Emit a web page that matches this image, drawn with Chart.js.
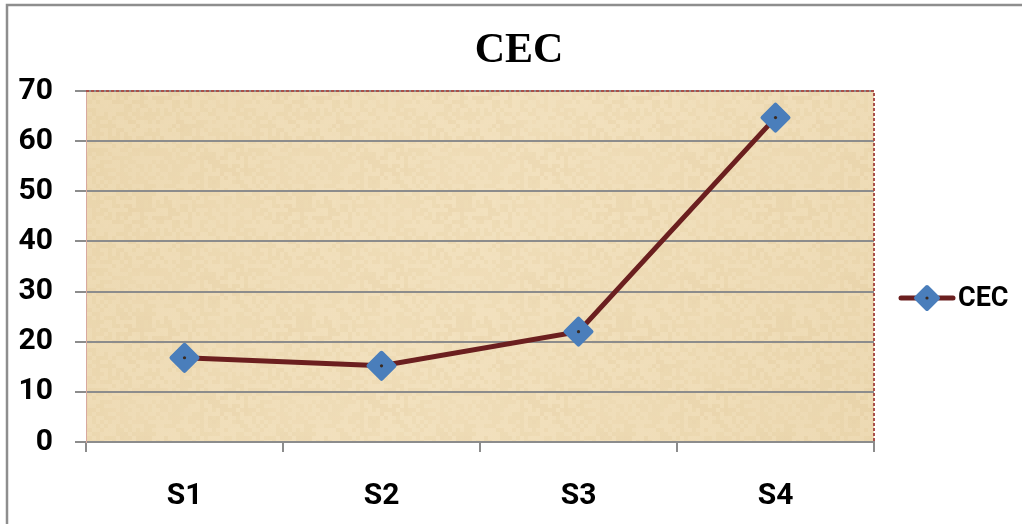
<!DOCTYPE html>
<html>
<head>
<meta charset="utf-8">
<title>CEC</title>
<script src="https://cdn.jsdelivr.net/npm/chart.js@4"></script>
<style>
  html, body { margin: 0; padding: 0; background: #fff; }
  #wrap { width: 1022px; height: 524px; }
</style>
</head>
<body>
<div id="wrap"><canvas id="cec" width="1022" height="524"></canvas></div>
<script>
// data
var categories = ['S1', 'S2', 'S3', 'S4'];
var cecValues = [16.8, 15.2, 22.0, 64.7];
var yTicks = [0, 10, 20, 30, 40, 50, 60, 70];

var sans = 'Roboto, "Liberation Sans", sans-serif';
var lineColor = '#6B1F1F';
var markColor = '#4A7EBB';

// a small parchment tile (decoration only)
function parchment(ctx) {
  var t = document.createElement('canvas');
  t.width = 160; t.height = 120;
  var c = t.getContext('2d');
  c.fillStyle = '#EFDDB8';
  c.fillRect(0, 0, 160, 120);
  for (var y = 0; y < 120; y += 4) {
    for (var x = 0; x < 160; x += 4) {
      var h = Math.sin(x * 12.9898 + y * 78.233) * 43758.5453;
      h = h - Math.floor(h);
      var s = Math.sin(x * 0.05 + 1.3) * Math.cos(y * 0.07) * 0.5 + 0.5;
      var a = 0.05 + 0.09 * s * h;
      c.fillStyle = h > 0.5 ? 'rgba(200,165,105,' + a + ')' : 'rgba(255,245,220,' + a + ')';
      c.fillRect(x, y, 4, 4);
    }
  }
  return ctx.createPattern(t, 'repeat');
}

var backdrop = {
  id: 'backdrop',
  beforeDraw: function(chart) {
    var ctx = chart.ctx, a = chart.chartArea;
    ctx.save();
    ctx.fillStyle = '#fff';
    ctx.fillRect(0, 0, chart.width, chart.height);
    // outer frame
    ctx.strokeStyle = '#8E8E8E';
    ctx.lineWidth = 2.5;
    ctx.strokeRect(7, 5, chart.width + 20, chart.height + 20);
    ctx.fillStyle = parchment(ctx);
    ctx.fillRect(a.left, a.top, a.right - a.left, a.bottom - a.top);
    var g = ctx.createLinearGradient(a.left, a.top, a.right, a.bottom);
    g.addColorStop(0, 'rgba(225,200,150,0.25)');
    g.addColorStop(0.5, 'rgba(255,240,210,0.15)');
    g.addColorStop(1, 'rgba(225,200,150,0.2)');
    ctx.fillStyle = g;
    ctx.fillRect(a.left, a.top, a.right - a.left, a.bottom - a.top);
    ctx.restore();
  },
  beforeDatasetsDraw: function(chart) {
    var ctx = chart.ctx, a = chart.chartArea;
    ctx.save();
    ctx.lineWidth = 2;
    ctx.strokeStyle = '#A9504A';
    ctx.setLineDash([3, 2]);
    ctx.beginPath();
    ctx.moveTo(a.left, a.top);
    ctx.lineTo(a.right, a.top);
    ctx.lineTo(a.right, a.bottom);
    ctx.stroke();
    ctx.restore();
    ctx.lineJoin = 'round';
  },
  afterDatasetsDraw: function(chart) {
    var ctx = chart.ctx;
    ctx.save();
    ctx.fillStyle = '#3A2A20';
    chart.getDatasetMeta(0).data.forEach(function(p) {
      ctx.beginPath();
      ctx.arc(p.x, p.y, 1.6, 0, Math.PI * 2);
      ctx.fill();
    });
    ctx.restore();
  },
  afterDraw: function(chart) {
    var ctx = chart.ctx, a = chart.chartArea;
    ctx.save();
    // title
    ctx.fillStyle = '#000';
    ctx.font = 'bold 42px "Liberation Serif", "Times New Roman", serif';
    ctx.textAlign = 'center';
    ctx.textBaseline = 'middle';
    ctx.fillText('CEC', chart.width / 2 + 8, 51);
    // legend: line + marker + label to the right of the plot
    var cx = a.right + 53, cy = a.top + 207;
    ctx.strokeStyle = lineColor;
    ctx.lineWidth = 5;
    ctx.lineCap = 'round';
    ctx.beginPath();
    ctx.moveTo(cx - 26, cy);
    ctx.lineTo(cx + 26, cy);
    ctx.stroke();
    ctx.lineJoin = 'round';
    ctx.fillStyle = markColor;
    ctx.strokeStyle = markColor;
    ctx.lineWidth = 4;
    ctx.beginPath();
    ctx.moveTo(cx, cy - 11);
    ctx.lineTo(cx + 11, cy);
    ctx.lineTo(cx, cy + 11);
    ctx.lineTo(cx - 11, cy);
    ctx.closePath();
    ctx.fill();
    ctx.stroke();
    ctx.fillStyle = '#3A2A20';
    ctx.beginPath();
    ctx.arc(cx, cy, 1.6, 0, Math.PI * 2);
    ctx.fill();
    ctx.fillStyle = '#000';
    ctx.font = 'bold 27px ' + sans;
    ctx.textAlign = 'left';
    ctx.fillText(chart.data.datasets[0].label, cx + 31, cy + 1);
    ctx.restore();
  }
};

new Chart(document.getElementById('cec'), {
  type: 'line',
  data: {
    labels: categories,
    datasets: [{
      label: 'CEC',
      data: cecValues,
      borderColor: lineColor,
      borderWidth: 5,
      tension: 0,
      pointStyle: 'rectRot',
      pointRadius: 13,
      pointBorderWidth: 4,
      pointBackgroundColor: markColor,
      pointBorderColor: markColor,
      pointHoverRadius: 13
    }]
  },
  options: {
    responsive: false,
    animation: false,
    layout: { padding: { left: 0, right: 148, top: 91, bottom: 0 } },
    plugins: {
      legend: { display: false },
      tooltip: { enabled: false },
      title: { display: false }
    },
    scales: {
      x: {
        offset: true,
        afterFit: function(scale) { scale.height = 82; },
        grid: { offset: true, drawOnChartArea: false, tickLength: 10, color: '#8C8C8C', lineWidth: 2 },
        border: { color: '#8C8C8C', width: 2 },
        ticks: { color: '#000', padding: 26, font: { family: sans, size: 30, weight: 'bold' } }
      },
      y: {
        min: 0,
        max: 70,
        afterBuildTicks: function(axis) {
          axis.ticks = yTicks.map(function(v) { return { value: v }; });
        },
        afterFit: function(scale) { scale.width = 86; },
        grid: { color: '#8C8C8C', lineWidth: 2, tickLength: 11 },
        border: { color: '#D8A99E', width: 1 },
        ticks: { color: '#000', padding: 22, font: { family: sans, size: 30, weight: 'bold' } }
      }
    }
  },
  plugins: [backdrop]
});
</script>
</body>
</html>
